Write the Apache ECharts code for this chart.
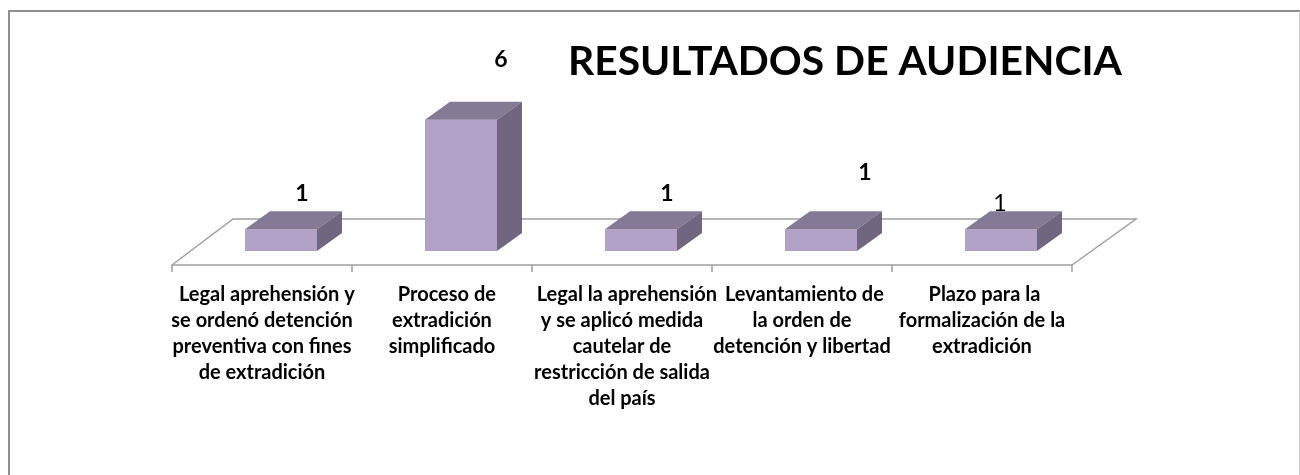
<!DOCTYPE html>
<html>
<head>
<meta charset="utf-8">
<style>html,body{margin:0;padding:0;background:#fff}#c{width:1300px;height:475px}</style>
<script src="https://cdn.jsdelivr.net/npm/echarts@6/dist/echarts.min.js"></script>
</head>
<body>
<div id="c"></div>
<script>
const chartTitle = 'RESULTADOS DE AUDIENCIA';
const categories = [
  '  Legal aprehensión y\nse ordenó detención\npreventiva con fines\nde extradición',
  '  Proceso de\nextradición\nsimplificado',
  '  Legal la aprehensión\ny se aplicó medida\ncautelar de\nrestricción de salida\ndel país',
  ' Levantamiento de\nla orden de\ndetención y libertad',
  ' Plazo para la\nformalización de la\nextradición'
];
const values = [1, 6, 1, 1, 1];

// Layout only: how far each hand-placed label sits from its bar's top centre
const labelDx = [21, 40, 26, 44, -1];
const labelDy = [-36, -60, -36, -57, -26];
const labelWeight = ['bold', 'bold', 'bold', 'bold', 'normal'];
const labelSize = [23, 23, 23, 23, 23];

const font = 'Lato';
const FLOOR_DX = 61, FLOOR_DY = -46;
const BAR_SHIFT_X = 19, BAR_SHIFT_Y = -14;
const DEPTH_X = 25, DEPTH_Y = -18;

const chart = echarts.init(document.getElementById('c'));

function renderFloor(params, api) {
  const cs = params.coordSys;
  const left = cs.x, right = cs.x + cs.width, y = cs.y + cs.height;
  return {
    type: 'polyline',
    shape: { points: [[left, y], [left + FLOOR_DX, y + FLOOR_DY], [right + FLOOR_DX + 3, y + FLOOR_DY], [right, y]] },
    style: { stroke: '#9f9f9f', lineWidth: 1.5, fill: null }
  };
}

function renderBar(params, api) {
  const i = api.value(0);
  const top = api.coord([i, api.value(1)]);
  const base = api.coord([i, 0]);
  const w = api.size([1, 0])[0] * 0.4;
  const x0 = top[0] - w / 2 + BAR_SHIFT_X, x1 = x0 + w;
  const yt = top[1] + BAR_SHIFT_Y, yb = base[1] + BAR_SHIFT_Y;
  return {
    type: 'group',
    children: [
      { type: 'polygon', shape: { points: [[x0, yt], [x1, yt], [x1, yb], [x0, yb]] }, style: { fill: '#b2a1c7' } },
      { type: 'polygon', shape: { points: [[x0, yt], [x0 + DEPTH_X, yt + DEPTH_Y], [x1 + DEPTH_X, yt + DEPTH_Y], [x1, yt]] }, style: { fill: '#857a96' } },
      { type: 'polygon', shape: { points: [[x1, yt], [x1 + DEPTH_X, yt + DEPTH_Y], [x1 + DEPTH_X, yb + DEPTH_Y], [x1, yb]] }, style: { fill: '#70667f' } },
      { type: 'text', z2: 10, style: {
          x: (x0 + x1) / 2 + labelDx[i], y: yt + labelDy[i],
          text: String(api.value(1)), fill: '#000',
          font: labelWeight[i] + ' ' + labelSize[i] + 'px ' + font,
          textAlign: 'center', textVerticalAlign: 'middle'
      } }
    ]
  };
}

chart.setOption({
  animation: false,
  backgroundColor: '#fff',
  title: {
    text: chartTitle, left: 568, top: 41, padding: 0,
    textStyle: { fontFamily: font, fontWeight: 'bold', fontSize: 40.8, color: '#000' }
  },
  grid: { left: 172, width: 900, top: 112, height: 153 },
  xAxis: {
    type: 'category',
    data: categories,
    boundaryGap: true,
    axisLine: { lineStyle: { color: '#9f9f9f', width: 1.5 } },
    axisTick: { show: true, alignWithLabel: false, length: 7, lineStyle: { color: '#9f9f9f', width: 1.5 } },
    axisLabel: {
      interval: 0, margin: 17, color: '#000', fontFamily: font, fontWeight: 'bold',
      fontSize: 20, lineHeight: 26, align: 'center', verticalAlign: 'top', hideOverlap: false
    }
  },
  yAxis: { type: 'value', min: 0, max: 7, show: false, splitLine: { show: false } },
  graphic: [
    {
      type: 'polyline', silent: true, z: -1,
      shape: { points: [[9, 480], [9, 11], [1300, 11]] },
      style: { stroke: '#8e8e8e', lineWidth: 2, fill: null }
    },
    {
      type: 'line', silent: true, z: -1,
      shape: { x1: 1299.5, y1: 11, x2: 1299.5, y2: 480 },
      style: { stroke: '#c8c8c8', lineWidth: 1 }
    }
  ],
  series: [
    { type: 'custom', renderItem: renderFloor, data: [[0, 0]], silent: true, z: 1, clip: false },
    { type: 'custom', renderItem: renderBar, data: values.map((v, i) => [i, v]), encode: { x: 0, y: 1 }, z: 2, clip: false }
  ]
});
</script>
</body>
</html>
